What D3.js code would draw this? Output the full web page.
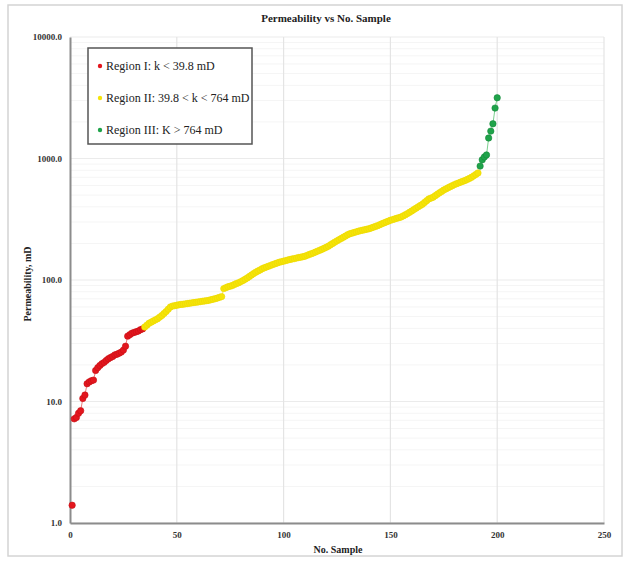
<!DOCTYPE html>
<html>
<head>
<meta charset="utf-8">
<script src="https://cdn.jsdelivr.net/npm/d3@7"></script>
<style>
  body { margin: 0; background: #fff; }
  svg text { font-family: "Liberation Serif", "Times New Roman", serif; }
</style>
</head>
<body>
<svg id="chart" width="630" height="563"></svg>
<script>
// Region I: k < 39.8 mD (samples 1..34)
const regionI = [1.4, 7.2, 7.4, 8.0, 8.4, 10.6, 11.3, 14.0, 14.5, 14.8,
  15.0, 18.0, 19.0, 19.8, 20.5, 21.0, 21.8, 22.5, 23.0, 23.5,
  24.2, 24.5, 25.0, 25.5, 26.5, 28.5, 34.5, 35.5, 36.5, 37.0,
  37.5, 38.0, 39.0, 39.6];

// Region II: 39.8 < k < 764 mD (samples 35..191)
const regionII = [41.0, 42.5, 44.0, 45.0, 46.0, 47.0, 48.0, 49.5, 51.0, 53.0,
  55.0, 57.5, 60.0, 61.0, 61.5, 62.0, 62.5, 63.0, 63.2, 63.6,
  64.0, 64.4, 64.8, 65.2, 65.6, 66.0, 66.4, 66.8, 67.2, 67.6,
  68.0, 68.8, 69.5, 70.2, 71.0, 72.0, 73.0, 85.0, 86.5, 88.0,
  89.0, 90.0, 92.0, 93.5, 95.0, 97.0, 99.0, 101.5, 104.0, 107.0,
  110.0, 113.0, 116.0, 118.5, 121.0, 124.0, 126.0, 128.0, 130.0, 132.0,
  134.0, 136.0, 138.0, 140.0, 141.5, 143.0, 144.5, 146.0, 147.5, 149.0,
  150.0, 151.5, 153.0, 154.0, 155.5, 157.0, 159.5, 162.0, 164.5, 167.0,
  170.0, 173.0, 176.0, 179.0, 182.5, 186.0, 190.0, 195.0, 200.0, 205.0,
  210.0, 215.0, 220.0, 225.0, 230.0, 236.0, 240.0, 243.0, 246.0, 249.0,
  252.0, 255.0, 257.0, 259.5, 262.0, 264.0, 268.0, 272.0, 276.0, 280.0,
  285.0, 290.0, 295.0, 300.0, 305.0, 310.0, 314.0, 318.0, 322.0, 326.0,
  330.0, 337.0, 344.0, 352.0, 361.0, 370.0, 380.0, 390.0, 400.0, 410.0,
  420.0, 435.0, 450.0, 465.0, 472.0, 480.0, 494.0, 508.0, 522.0, 536.0,
  550.0, 562.0, 574.0, 586.0, 598.0, 610.0, 620.0, 630.0, 640.0, 650.0,
  660.0, 673.0, 686.0, 700.0, 720.0, 740.0, 760.0];

// Region III: K > 764 mD (samples 192..200)
const regionIII = [866, 976, 1030, 1070, 1475, 1680, 1930, 2600, 3160];

const xTicks = [0, 50, 100, 150, 200, 250];
const yTicks = [1, 10, 100, 1000, 10000];
const legendLabels = ["Region I: k < 39.8 mD", "Region II: 39.8 < k < 764 mD", "Region III: K > 764 mD"];

const series = [
  { name: legendLabels[0], start: 1, values: regionI, fill: "#e3161e", stroke: "#c81016", line: "#ef7a7a" },
  { name: legendLabels[1], start: 1 + regionI.length, values: regionII, fill: "#f5e40a", stroke: "#ecd800", line: "#f3e66a" },
  { name: legendLabels[2], start: 1 + regionI.length + regionII.length, values: regionIII, fill: "#1fa34a", stroke: "#15893b", line: "#7ccf8f" }
];

const svg = d3.select("#chart");
const margin = { left: 70, right: 26, top: 37, bottom: 40 };

// outer chart frame
svg.append("rect")
  .attr("x", 8).attr("y", 5).attr("width", 614).attr("height", 551)
  .attr("fill", "#fff").attr("stroke", "#d4d4d4").attr("stroke-width", 1.5);

const x = d3.scaleLinear().domain([0, 250]).range([margin.left, 604]);
const y = d3.scaleLog().domain([1, 10000]).range([523, margin.top]);

const grid = svg.append("g");
// minor horizontal gridlines
const minor = [];
[1, 10, 100, 1000].forEach(d => { for (let m = 2; m <= 9; m++) minor.push(d * m); });
grid.selectAll(".minor").data(minor).enter().append("line")
  .attr("x1", x(0)).attr("x2", x(250))
  .attr("y1", d => y(d)).attr("y2", d => y(d))
  .attr("stroke", "#f5f5f5").attr("stroke-width", 1);
grid.selectAll(".major").data(yTicks).enter().append("line")
  .attr("x1", x(0)).attr("x2", x(250))
  .attr("y1", d => y(d)).attr("y2", d => y(d))
  .attr("stroke", "#ebebeb").attr("stroke-width", 1);
grid.selectAll(".vgrid").data(xTicks.slice(1)).enter().append("line")
  .attr("x1", d => x(d)).attr("x2", d => x(d))
  .attr("y1", y(10000)).attr("y2", y(1))
  .attr("stroke", "#e4e4e4").attr("stroke-width", 1.2);

// axes
const xAxis = svg.append("g").attr("transform", `translate(0,${y(1)})`)
  .call(d3.axisBottom(x).tickValues(xTicks).tickFormat(d3.format("d")).tickSize(0).tickPadding(9));
const yAxis = svg.append("g").attr("transform", `translate(${x(0)},0)`)
  .call(d3.axisLeft(y).tickValues(yTicks).tickFormat(d3.format(".1f")).tickSize(0).tickPadding(8));
[xAxis, yAxis].forEach(a => {
  a.select(".domain").attr("stroke", "#8c8c8c").attr("stroke-width", 2);
  a.selectAll("text").attr("font-family", "Liberation Serif, serif")
    .attr("font-size", 9).attr("font-weight", "bold").attr("fill", "#333");
});

// series
const plot = svg.append("g");
series.forEach(s => {
  const pts = s.values.map((v, i) => ({ n: s.start + i, k: v }));
  plot.append("path").datum(s === series[0] ? pts.slice(1) : pts)
    .attr("fill", "none").attr("stroke", s.line).attr("stroke-width", 1)
    .attr("d", d3.line().x(d => x(d.n)).y(d => y(d.k)));
  plot.selectAll(null).data(pts).enter().append("circle")
    .attr("cx", d => x(d.n)).attr("cy", d => y(d.k)).attr("r", 3.2)
    .attr("fill", s.fill).attr("stroke", s.stroke).attr("stroke-width", 0.6);
});

// title and axis titles
svg.append("text").attr("x", 326).attr("y", 22).attr("text-anchor", "middle")
  .attr("font-size", 11).attr("font-weight", "bold").attr("fill", "#222")
  .text("Permeability vs No. Sample");
svg.append("text").attr("x", 338).attr("y", 553).attr("text-anchor", "middle")
  .attr("font-size", 10).attr("font-weight", "bold").attr("fill", "#222")
  .text("No. Sample");
svg.append("text").attr("transform", "translate(31,284) rotate(-90)").attr("text-anchor", "middle")
  .attr("font-size", 10).attr("font-weight", "bold").attr("fill", "#222")
  .text("Permeability, mD");

// legend
const lg = svg.append("g");
lg.append("rect").attr("x", 88).attr("y", 48).attr("width", 164).attr("height", 96)
  .attr("fill", "#fff").attr("stroke", "#555").attr("stroke-width", 1.5);
series.forEach((s, i) => {
  const ly = 66 + i * 32;
  lg.append("circle").attr("cx", 100).attr("cy", ly).attr("r", 2.2).attr("fill", s.fill);
  lg.append("text").attr("x", 106).attr("y", ly + 4).attr("font-size", 12).attr("fill", "#222").text(s.name);
});
</script>
</body>
</html>
